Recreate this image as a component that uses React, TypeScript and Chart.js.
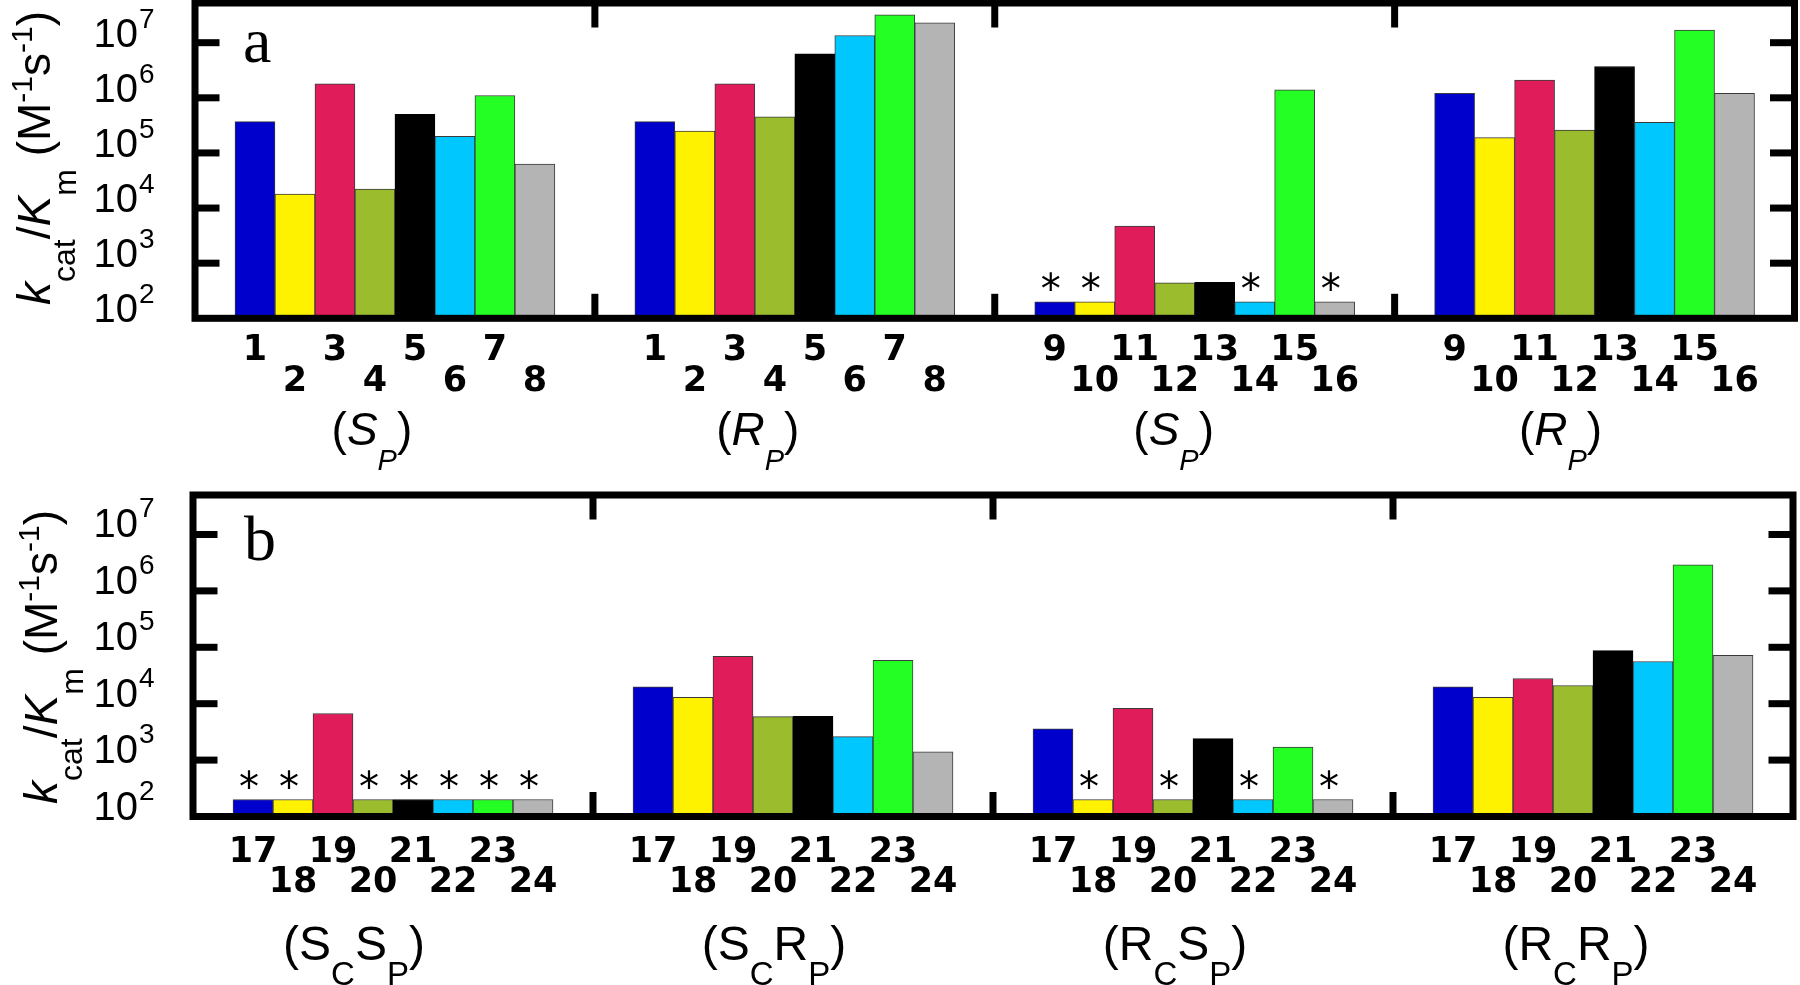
import React, { useEffect, useRef } from "react";
import { Chart, registerables } from "chart.js";

Chart.register(...registerables);

// ---------------- data ----------------
const barColors = ["#0000CC", "#FFF200", "#E01C5A", "#9ABC2D", "#000000", "#00C8FF", "#24FF24", "#B4B4B4"];

const labels1to8 = ["1", "2", "3", "4", "5", "6", "7", "8"];
const labels9to16 = ["9", "10", "11", "12", "13", "14", "15", "16"];
const labels17to24 = ["17", "18", "19", "20", "21", "22", "23", "24"];

// panel a
const valsA_Sp_1_8 = [3.7e5, 1.8e4, 1.8e6, 2.2e4, 5.0e5, 2.0e5, 1.1e6, 6.3e4];
const valsA_Rp_1_8 = [3.7e5, 2.5e5, 1.8e6, 4.5e5, 6.3e6, 1.35e7, 3.2e7, 2.3e7];
const valsA_Sp_9_16 = [200, 200, 4.7e3, 4.4e2, 4.5e2, 200, 1.4e6, 200];
const valsA_Rp_9_16 = [1.2e6, 1.9e5, 2.1e6, 2.6e5, 3.7e6, 3.6e5, 1.7e7, 1.2e6];

const starsA_Sp_1_8 = [false, false, false, false, false, false, false, false];
const starsA_Rp_1_8 = [false, false, false, false, false, false, false, false];
const starsA_Sp_9_16 = [true, true, false, false, false, true, false, true];
const starsA_Rp_9_16 = [false, false, false, false, false, false, false, false];

// panel b
const valsB_ScSp = [200, 200, 6.7e3, 200, 200, 200, 200, 200];
const valsB_ScRp = [2.0e4, 1.3e4, 6.9e4, 5.9e3, 6.0e3, 2.6e3, 5.9e4, 1.4e3];
const valsB_RcSp = [3.6e3, 200, 8.3e3, 200, 2.4e3, 200, 1.7e3, 200];
const valsB_RcRp = [2.0e4, 1.3e4, 2.8e4, 2.1e4, 8.7e4, 5.6e4, 2.9e6, 7.2e4];

const starsB_ScSp = [true, true, false, true, true, true, true, true];
const starsB_ScRp = [false, false, false, false, false, false, false, false];
const starsB_RcSp = [false, true, false, true, false, true, false, true];
const starsB_RcRp = [false, false, false, false, false, false, false, false];

// group titles: pairs [main, subscript]
const titlesA: [string, string][][] = [[["S", "P"]], [["R", "P"]], [["S", "P"]], [["R", "P"]]];
const titlesB: [string, string][][] = [
  [["S", "C"], ["S", "P"]],
  [["S", "C"], ["R", "P"]],
  [["R", "C"], ["S", "P"]],
  [["R", "C"], ["R", "P"]],
];

const yTickExps = [2, 3, 4, 5, 6, 7];

// ---------------- helpers ----------------
const SANS = "'Liberation Sans', Arial, sans-serif";
type Seg = { text: string; font: string; dy: number };

function drawRich(ctx: CanvasRenderingContext2D, segs: Seg[], x: number, y: number, align: "center" | "left" | "right") {
  let total = 0;
  const widths = segs.map((s) => {
    ctx.font = s.font;
    const w = ctx.measureText(s.text).width;
    total += w;
    return w;
  });
  let cx = align === "center" ? x - total / 2 : align === "right" ? x - total : x;
  ctx.textAlign = "left";
  ctx.textBaseline = "alphabetic";
  segs.forEach((s, i) => {
    ctx.font = s.font;
    ctx.fillText(s.text, cx, y + s.dy);
    cx += widths[i];
  });
}

type Group = { values: number[]; labels: string[]; stars: boolean[]; title: [string, string][] };
type PanelCfg = {
  top: number;
  height: number;
  pad: { left: number; right: number; top: number; bottom: number };
  yMax: number;
  groups: Group[];
  letter: string;
  letterPos: [number, number];
  italicTitles: boolean;
  titleMain: number;
  titleSub: number;
  titleDx: number[];
  titleGap: number;
  rowGaps: [number, number];
  tenDy: number;
  expDy: number;
  yTitleX: number;
  yTitleY: number;
};

function buildData(groups: Group[]) {
  const labels: string[] = [];
  const data: (number | null)[] = [];
  const colors: string[] = [];
  const borders: string[] = [];
  const stars: boolean[] = [];
  groups.forEach((g) => {
    labels.push("");
    data.push(null);
    colors.push("transparent");
    borders.push("transparent");
    stars.push(false);
    g.values.forEach((v, i) => {
      labels.push(g.labels[i]);
      data.push(v);
      colors.push(barColors[i]);
      borders.push(i === 4 ? "#000000" : "#3a3a3a");
      stars.push(g.stars[i]);
    });
    labels.push("");
    data.push(null);
    colors.push("transparent");
    borders.push("transparent");
    stars.push(false);
  });
  return { labels, data, colors, borders, stars };
}

function Panel({ cfg }: { cfg: PanelCfg }) {
  const ref = useRef<HTMLCanvasElement>(null);
  useEffect(() => {
    const built = buildData(cfg.groups);
    const decor = {
      id: "decor",
      afterDatasetsDraw(chart: any) {
        const ctx: CanvasRenderingContext2D = chart.ctx;
        const { left, right, top, bottom } = chart.chartArea;
        const xs = chart.scales.x;
        const ys = chart.scales.y;
        const lw = 7;
        const tickLen = 21;
        ctx.save();
        ctx.fillStyle = "#000";
        ctx.strokeStyle = "#000";

        // asterisks
        built.stars.forEach((s, i) => {
          if (!s) return;
          const v = built.data[i] as number;
          const px = xs.getPixelForValue(i);
          const py = ys.getPixelForValue(v);
          ctx.font = "40px 'DejaVu Sans', sans-serif";
          ctx.textAlign = "center";
          ctx.textBaseline = "alphabetic";
          ctx.fillText("*", px - 4, py + 1);
        });

        // frame
        ctx.lineWidth = lw;
        ctx.lineJoin = "miter";
        ctx.strokeRect(left, top, right - left, bottom - top);

        // y ticks (inward, both sides)
        yTickExps.forEach((k) => {
          if (k === 2) return;
          const py = ys.getPixelForValue(Math.pow(10, k));
          ctx.fillRect(left, py - lw / 2, lw / 2 + tickLen, lw);
          ctx.fillRect(right - lw / 2 - tickLen, py - lw / 2, lw / 2 + tickLen, lw);
        });

        // group separators
        const nG = cfg.groups.length;
        const per = built.labels.length / nG;
        for (let g = 1; g < nG; g++) {
          const px = (xs.getPixelForValue(g * per - 1) + xs.getPixelForValue(g * per)) / 2;
          ctx.fillRect(px - lw / 2, bottom - lw / 2 - tickLen, lw, tickLen + lw / 2);
          ctx.fillRect(px - lw / 2, top, lw, tickLen + lw / 2);
        }

        // y tick labels
        yTickExps.forEach((k) => {
          const py = ys.getPixelForValue(Math.pow(10, k));
          ctx.textBaseline = "alphabetic";
          ctx.font = `40px ${SANS}`;
          ctx.textAlign = "right";
          ctx.fillText("10", 138, py + cfg.tenDy);
          ctx.font = `28px ${SANS}`;
          ctx.textAlign = "left";
          ctx.fillText(String(k), 139, py + cfg.expDy);
        });

        // y title (rotated)
        ctx.save();
        ctx.translate(cfg.yTitleX, cfg.yTitleY);
        ctx.rotate(-Math.PI / 2);
        const big = `46px ${SANS}`;
        const bigI = `italic 46px ${SANS}`;
        const small = `32px ${SANS}`;
        const sup = `30px ${SANS}`;
        drawRich(
          ctx,
          [
            { text: "k", font: bigI, dy: 0 },
            { text: "cat", font: small, dy: 25 },
            { text: "/", font: big, dy: 0 },
            { text: "K", font: bigI, dy: 0 },
            { text: "m", font: small, dy: 26 },
            { text: " (", font: big, dy: 0 },
            { text: "M", font: big, dy: 0 },
            { text: "-1", font: sup, dy: -18 },
            { text: "s", font: big, dy: 0 },
            { text: "-1", font: sup, dy: -18 },
            { text: ")", font: big, dy: 0 },
          ],
          0,
          0,
          "center"
        );
        ctx.restore();

        // x labels (two staggered rows)
        let idxInGroup = 0;
        built.labels.forEach((lab, i) => {
          if (!lab) {
            idxInGroup = 0;
            return;
          }
          const px = xs.getPixelForValue(i);
          const row = idxInGroup % 2;
          idxInGroup++;
          ctx.font = `bold 35px 'DejaVu Sans', sans-serif`;
          ctx.textAlign = "center";
          ctx.textBaseline = "alphabetic";
          ctx.fillText(lab, px, bottom + cfg.rowGaps[row]);
        });

        // group titles
        cfg.groups.forEach((g, gi) => {
          const a = xs.getPixelForValue(gi * per);
          const b = xs.getPixelForValue(gi * per + per - 1);
          const cx = (a + b) / 2 + cfg.titleDx[gi];
          const it = cfg.italicTitles ? "italic " : "";
          const mainF = `${it}${cfg.titleMain}px ${SANS}`;
          const subF = `${it}${cfg.titleSub}px ${SANS}`;
          const segs: Seg[] = [{ text: "(", font: `${cfg.titleMain}px ${SANS}`, dy: 0 }];
          g.title.forEach(([m, s]) => {
            segs.push({ text: m, font: mainF, dy: 0 });
            segs.push({ text: s, font: subF, dy: 25 });
          });
          segs.push({ text: ")", font: `${cfg.titleMain}px ${SANS}`, dy: 0 });
          drawRich(ctx, segs, cx, bottom + cfg.titleGap, "center");
        });

        // panel letter
        ctx.font = "64px 'Liberation Serif', 'Times New Roman', serif";
        ctx.textAlign = "left";
        ctx.textBaseline = "alphabetic";
        ctx.fillText(cfg.letter, cfg.letterPos[0], cfg.letterPos[1]);

        ctx.restore();
      },
    };

    const chart = new Chart(ref.current as HTMLCanvasElement, {
      type: "bar",
      data: {
        labels: built.labels,
        datasets: [
          {
            data: built.data as any,
            backgroundColor: built.colors,
            borderColor: built.borders,
            borderWidth: 1,
            barPercentage: 1,
            categoryPercentage: 1,
          },
        ],
      },
      options: {
        animation: false,
        responsive: false,
        devicePixelRatio: 1,
        layout: { padding: cfg.pad },
        plugins: { legend: { display: false }, tooltip: { enabled: false } },
        scales: {
          x: { display: false, offset: true },
          y: { type: "logarithmic", display: false, min: 100, max: cfg.yMax },
        },
      },
      plugins: [decor],
    });
    return () => chart.destroy();
  }, [cfg]);
  return (
    <div style={{ position: "absolute", left: 0, top: cfg.top, width: 1800, height: cfg.height }}>
      <canvas ref={ref} width={1800} height={cfg.height} style={{ display: "block" }} />
    </div>
  );
}

const panelA: PanelCfg = {
  top: 0,
  height: 490,
  pad: { left: 195, right: 5.5, top: 3, bottom: 490 - 318.3 },
  yMax: Math.pow(10, 7.72),
  groups: [
    { values: valsA_Sp_1_8, labels: labels1to8, stars: starsA_Sp_1_8, title: titlesA[0] },
    { values: valsA_Rp_1_8, labels: labels1to8, stars: starsA_Rp_1_8, title: titlesA[1] },
    { values: valsA_Sp_9_16, labels: labels9to16, stars: starsA_Sp_9_16, title: titlesA[2] },
    { values: valsA_Rp_9_16, labels: labels9to16, stars: starsA_Rp_9_16, title: titlesA[3] },
  ],
  letter: "a",
  letterPos: [243, 62],
  italicTitles: true,
  titleMain: 46,
  titleSub: 29,
  titleDx: [-23, -37, -21, -34],
  titleGap: 127,
  rowGaps: [42, 73],
  tenDy: 4,
  expDy: -15,
  yTitleX: 50,
  yTitleY: 158,
};

const panelB: PanelCfg = {
  top: 490,
  height: 495,
  pad: { left: 193, right: 7, top: 5, bottom: 495 - 326.5 },
  yMax: Math.pow(10, 7.7),
  groups: [
    { values: valsB_ScSp, labels: labels17to24, stars: starsB_ScSp, title: titlesB[0] },
    { values: valsB_ScRp, labels: labels17to24, stars: starsB_ScRp, title: titlesB[1] },
    { values: valsB_RcSp, labels: labels17to24, stars: starsB_RcSp, title: titlesB[2] },
    { values: valsB_RcRp, labels: labels17to24, stars: starsB_RcRp, title: titlesB[3] },
  ],
  letter: "b",
  letterPos: [244, 70],
  italicTitles: false,
  titleMain: 48,
  titleSub: 33,
  titleDx: [-39, -19, -18, -17],
  titleGap: 143,
  rowGaps: [45, 75],
  tenDy: 3,
  expDy: -17,
  yTitleX: 57,
  yTitleY: 167,
};

export default function App() {
  return (
    <div style={{ position: "fixed", left: 0, top: 0, width: 1800, height: 985, background: "#fff" }}>
      <Panel cfg={panelA} />
      <Panel cfg={panelB} />
    </div>
  );
}
